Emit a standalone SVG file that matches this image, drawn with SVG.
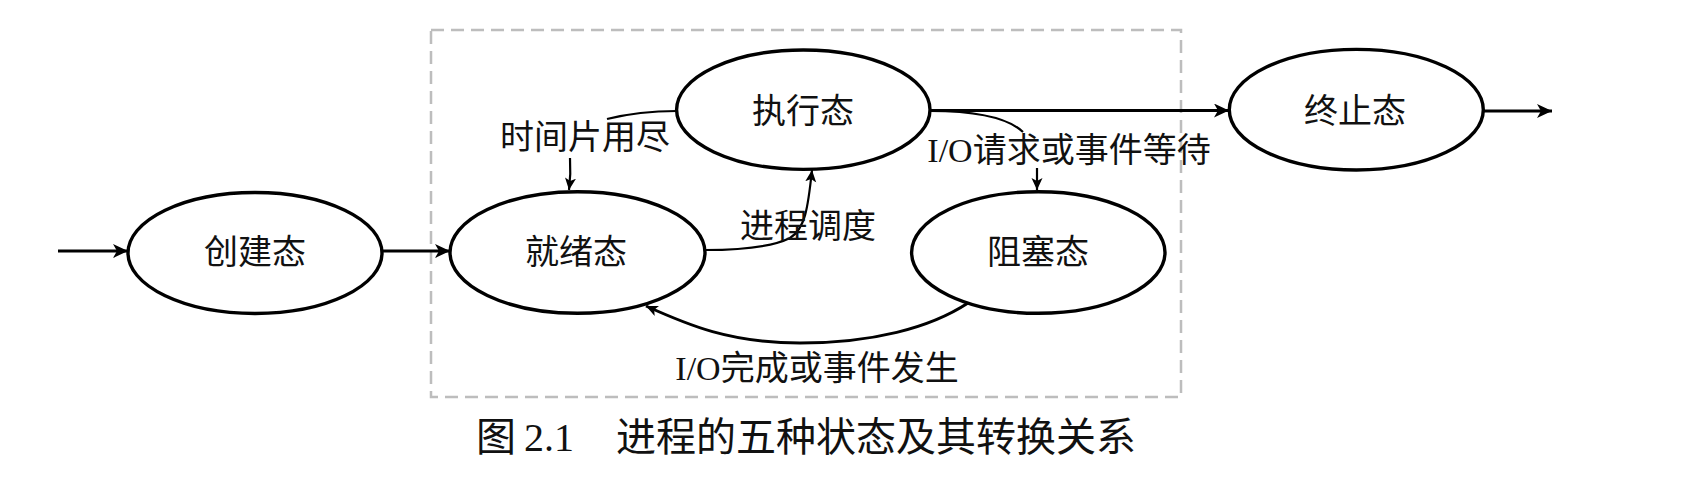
<svg xmlns="http://www.w3.org/2000/svg" width="1686" height="495" viewBox="0 0 1686 495">
<style>
.node ellipse{fill:#fff;stroke:#000;stroke-width:3.4}
.ntext{font-family:"Liberation Serif","Noto Sans CJK SC",serif;font-size:34px;fill:#111;text-anchor:middle;dominant-baseline:central}
.lbl{font-family:"Liberation Serif","Noto Sans CJK SC",serif;font-size:34px;fill:#111;text-anchor:middle;dominant-baseline:central}
.cap{font-family:"Liberation Serif","Noto Sans CJK SC",serif;font-size:40px;fill:#111;dominant-baseline:central}
.thick{fill:none;stroke:#000;stroke-width:3}
.thin{fill:none;stroke:#000;stroke-width:2.2}
.box{fill:none;stroke:#bdbdbd;stroke-width:2.5;stroke-dasharray:13 7}
</style>
<defs>
<marker id="ah" markerUnits="userSpaceOnUse" markerWidth="16" markerHeight="16" refX="15" refY="7" orient="auto">
<path d="M0,0 L15,7 L0,14 L4,7 Z" fill="#000"/>
</marker>
<marker id="as" markerUnits="userSpaceOnUse" markerWidth="14" markerHeight="12" refX="12" refY="5.5" orient="auto">
<path d="M0,0 L12,5.5 L0,11 L3,5.5 Z" fill="#000"/>
</marker>
</defs>
<rect class="box" x="431" y="30" width="750" height="367"/>
<g id="connectors">
<line class="thick" x1="58" y1="251" x2="128" y2="251" marker-end="url(#ah)"/>
<line class="thick" x1="382" y1="251" x2="450" y2="251" marker-end="url(#ah)"/>
<line class="thick" x1="930" y1="110.5" x2="1229" y2="110.5" marker-end="url(#ah)"/>
<line class="thick" x1="1483" y1="111" x2="1552" y2="111" marker-end="url(#ah)"/>
<path class="thin" d="M677,111 C650,111 627,114 607,119"/>
<path class="thin" d="M570,158 Q571,174 569,190" marker-end="url(#as)"/>
<path class="thin" d="M705,250 C742,250 772,247 790,238 C805,229 808,208 812,170" marker-end="url(#as)"/>
<path class="thin" d="M930,111 C965,111 1005,115 1023,132"/>
<path class="thin" d="M1037,168 L1037,190" marker-end="url(#as)"/>
<path class="thick" d="M968,303 C930,328 872,343 800,343 C730,343 688,325 646,306" marker-end="url(#as)"/>
<text class="lbl" x="585" y="137">时间片用尽</text>
<text class="lbl" x="808" y="226">进程调度</text>
<text class="lbl" x="1069" y="150">I/O请求或事件等待</text>
<text class="lbl" x="817" y="368">I/O完成或事件发生</text>
</g>
<g id="create" class="node"><ellipse cx="255" cy="253" rx="127" ry="60.5"/><text class="ntext" x="255" y="252">创建态</text></g>
<g id="ready" class="node"><ellipse cx="577.5" cy="252.5" rx="127.5" ry="60.8"/><text class="ntext" x="576" y="252">就绪态</text></g>
<g id="running" class="node"><ellipse cx="803.3" cy="109.7" rx="126.7" ry="59.7"/><text class="ntext" x="803" y="111">执行态</text></g>
<g id="blocked" class="node"><ellipse cx="1038.3" cy="252.5" rx="126.7" ry="60.8"/><text class="ntext" x="1038" y="252">阻塞态</text></g>
<g id="terminated" class="node"><ellipse cx="1356.3" cy="109.7" rx="127" ry="60.3"/><text class="ntext" x="1355" y="111">终止态</text></g>
<text class="cap" y="437"><tspan x="476">图</tspan><tspan x="524">2.1</tspan><tspan x="616">进程的五种状态及其转换关系</tspan></text>
</svg>
